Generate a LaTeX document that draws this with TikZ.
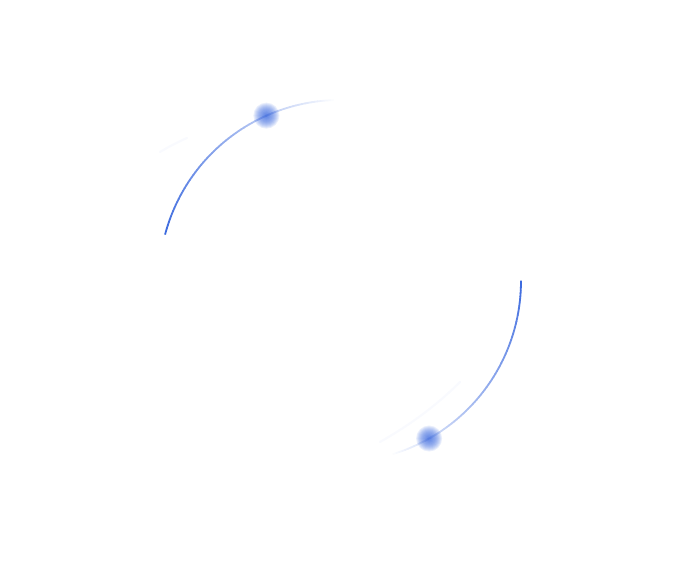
\documentclass[tikz,border=0pt]{standalone}
\usepackage{tikz}
\usetikzlibrary{calc}
\definecolor{orbitblu}{RGB}{58,104,222}
\tikzstyle{orbita} = [line width=1.8pt, line cap=butt]
\tikzstyle{scia} = [line width=2.2pt, line cap=round, opacity=0.03, draw=orbitblu]
\tikzstyle{alone} = [fill=orbitblu, opacity=0.11]

\begin{document}
\begin{tikzpicture}[x=1pt,y=1pt]
\useasboundingbox (0,0) rectangle (673,562);
\coordinate (centro) at (340,281);
\coordinate (p1) at ($(centro)+(114:181)$);
\coordinate (p2) at ($(centro)+(-60.5:181)$);
% arco in alto a sinistra
\foreach \a in {91,...,164}{
  \pgfmathsetmacro{\t}{100*((\a-91)/74)^0.9}
  \draw[orbita, draw=orbitblu!\t!white] ($(centro)+(\a:181)$) arc[start angle=\a, end angle=\a+1.15, radius=181];
}
% arco in basso a destra
\foreach \a in {-74,...,-1}{
  \pgfmathsetmacro{\t}{100*((\a+74)/74)^0.9}
  \draw[orbita, draw=orbitblu!\t!white] ($(centro)+(\a:181)$) arc[start angle=\a, end angle=\a+1.15, radius=181];
}
% scie leggere
\draw[scia] (160,410) .. controls (170,416) and (178,420) .. (187,424);
\draw[scia] (380,120) .. controls (408,136) and (435,155) .. (460,180);
% punti luminosi
\foreach \r in {13,12,...,1}{
  \fill[alone] (p1) circle (\r);
  \fill[alone] (p2) circle (\r);
}
\end{tikzpicture}
\end{document}
